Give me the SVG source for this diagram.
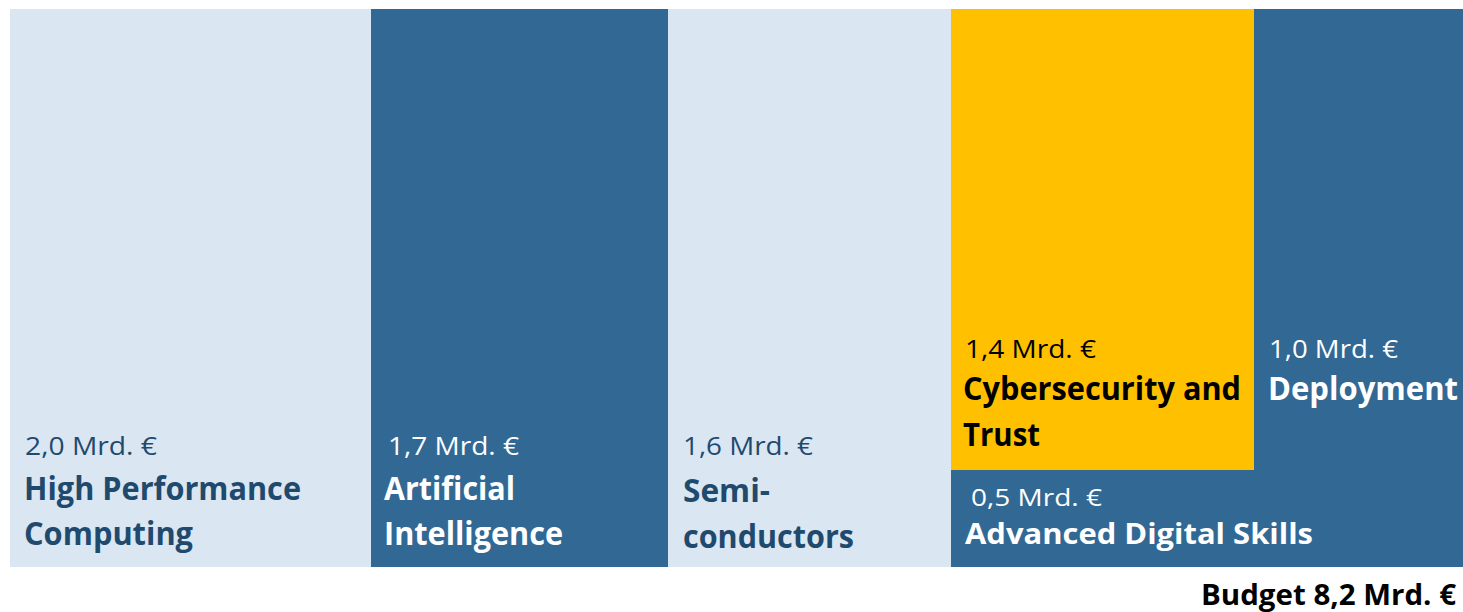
<svg xmlns="http://www.w3.org/2000/svg" width="1463" height="612" viewBox="0 0 1463 612">
<style>
.light{fill:#DAE6F1}
.dark{fill:#326894}
.yellow{fill:#FFC000}
.amt{font-family:"Open Sans","Liberation Sans",sans-serif;font-size:26px;font-weight:400}
.ttl{font-family:"Open Sans","Liberation Sans",sans-serif;font-size:32px;font-weight:700}
.dk{fill:#1F4A6E}
.wh{fill:#FFFFFF}
.bk{fill:#000000}
</style>
<rect width="1463" height="612" fill="#FFFFFF"/>
<g id="hpc">
<rect class="light" x="10" y="9" width="361" height="558"/>
<text class="amt dk" x="25" y="455" textLength="132" lengthAdjust="spacingAndGlyphs">2,0 Mrd. €</text>
<text class="ttl dk" x="24" y="500" textLength="277" lengthAdjust="spacingAndGlyphs">High Performance</text>
<text class="ttl dk" x="24" y="545" textLength="169" lengthAdjust="spacingAndGlyphs">Computing</text>
</g>
<g id="ai">
<rect class="dark" x="371" y="9" width="297" height="558"/>
<text class="amt wh" x="388" y="455" textLength="131" lengthAdjust="spacingAndGlyphs">1,7 Mrd. €</text>
<text class="ttl wh" x="384" y="500" textLength="131" lengthAdjust="spacingAndGlyphs">Artificial</text>
<text class="ttl wh" x="384" y="545" textLength="179" lengthAdjust="spacingAndGlyphs">Intelligence</text>
</g>
<g id="semi">
<rect class="light" x="668" y="9" width="283" height="558"/>
<text class="amt dk" x="683" y="455" textLength="130" lengthAdjust="spacingAndGlyphs">1,6 Mrd. €</text>
<text class="ttl dk" x="683" y="502" textLength="87" lengthAdjust="spacingAndGlyphs">Semi-</text>
<text class="ttl dk" x="683" y="548" textLength="171" lengthAdjust="spacingAndGlyphs">conductors</text>
</g>
<g id="cyber">
<rect class="yellow" x="951" y="9" width="303" height="461"/>
<text class="amt bk" x="965" y="358" textLength="131" lengthAdjust="spacingAndGlyphs">1,4 Mrd. €</text>
<text class="ttl bk" x="963" y="400" textLength="278" lengthAdjust="spacingAndGlyphs">Cybersecurity and</text>
<text class="ttl bk" x="963" y="446" textLength="77" lengthAdjust="spacingAndGlyphs">Trust</text>
</g>
<g id="deploy">
<rect class="dark" x="1254" y="9" width="209" height="461"/>
<text class="amt wh" x="1269" y="358" textLength="129" lengthAdjust="spacingAndGlyphs">1,0 Mrd. €</text>
<text class="ttl wh" x="1268" y="400" textLength="190" lengthAdjust="spacingAndGlyphs">Deployment</text>
</g>
<g id="skills">
<rect class="dark" x="951" y="470" width="512" height="97"/>
<text class="amt wh" x="971" y="506" textLength="131" lengthAdjust="spacingAndGlyphs" style="font-size:24px">0,5 Mrd. €</text>
<text class="ttl wh" x="965" y="544" textLength="348" lengthAdjust="spacingAndGlyphs" style="font-size:29px">Advanced Digital Skills</text>
</g>
<g id="connectors"/>
<g id="budget">
<text class="ttl bk" x="1201" y="605" textLength="255" lengthAdjust="spacingAndGlyphs" style="font-size:29px">Budget 8,2 Mrd. €</text>
</g>
</svg>
